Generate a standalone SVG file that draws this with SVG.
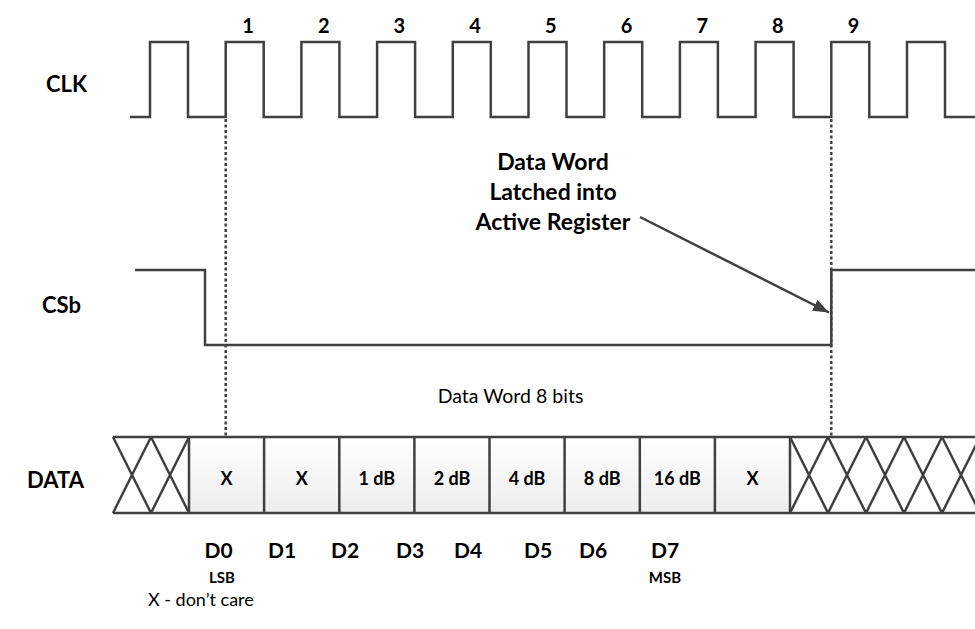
<svg xmlns="http://www.w3.org/2000/svg" width="975" height="629" viewBox="0 0 975 629">
<style>
.w{fill:none;stroke:#404040;stroke-width:2.5}
.dot{fill:none;stroke:#404040;stroke-width:2.5;stroke-dasharray:3,2.5}
.t{font-family:Lato,"Liberation Sans",sans-serif;fill:#000;text-anchor:middle}
.b{font-weight:bold}
</style>
<defs>
<linearGradient id="g" x1="0" y1="0" x2="0" y2="1">
<stop offset="0" stop-color="#ffffff"/>
<stop offset="1" stop-color="#ededed"/>
</linearGradient>
<marker id="ah" markerWidth="16" markerHeight="12" refX="16" refY="6" orient="auto" markerUnits="userSpaceOnUse" viewBox="0 0 16 12">
<path d="M0,0 L16,6 L0,12 Z" fill="#404040"/>
</marker>
</defs>
<g id="labels">
<text class="t b" x="87" y="92" font-size="22" style="text-anchor:end">CLK</text>
<text class="t b" x="81" y="313" font-size="22" style="text-anchor:end">CSb</text>
<text class="t b" x="84" y="488" font-size="22" style="text-anchor:end">DATA</text>
</g>
<g id="clk-numbers" class="t b" font-size="20">
<text x="248" y="33">1</text><text x="323.7" y="33">2</text><text x="399.4" y="33">3</text>
<text x="475.1" y="33">4</text><text x="550.8" y="33">5</text><text x="626.5" y="33">6</text>
<text x="702.2" y="33">7</text><text x="777.9" y="33">8</text><text x="853.6" y="33">9</text>
</g>
<g id="clk">
<path class="w" d="M130,117 H150 V42 H188 V117 H225.7 V42 H263.7 V117 H301.4 V42 H339.4 V117 H377.1 V42 H415.1 V117 H452.8 V42 H490.8 V117 H528.5 V42 H566.5 V117 H604.2 V42 H642.2 V117 H679.9 V42 H717.9 V117 H755.6 V42 H793.6 V117 H831.3 V42 H869.3 V117 H907 V42 H945 V117 H975"/>
</g>
<g id="csb">
<path class="w" d="M135,270 H205 V345 H831.3 V270 H975"/>
</g>
<g id="connectors">
<line class="dot" x1="225.7" y1="119" x2="225.7" y2="436"/>
<line class="dot" x1="831.3" y1="119" x2="831.3" y2="436"/>
<line x1="640" y1="217" x2="829" y2="312.5" stroke="#404040" stroke-width="2.5" marker-end="url(#ah)"/>
</g>
<g id="annotation" class="t b" font-size="23">
<text x="553" y="170">Data Word</text>
<text x="553" y="200">Latched into</text>
<text x="553" y="230">Active Register</text>
</g>
<text id="word-label" class="t" x="510.5" y="403" font-size="19.5">Data Word 8 bits</text>
<g id="data">
<rect x="189" y="437" width="601" height="76" fill="url(#g)" stroke="none"/>
<path class="w" d="M113,437 H975 M113,513 H975 M189,437 V513 M264.1,437 V513 M339.3,437 V513 M414.4,437 V513 M489.5,437 V513 M564.6,437 V513 M639.8,437 V513 M714.9,437 V513 M790,437 V513"/>
<path class="w" stroke-width="2" d="M113,437 L151,513 M113,513 L151,437 M151,437 L189,513 M151,513 L189,437 M790,513 L828,437 M790,437 L828,513 M828,513 L866,437 M828,437 L866,513 M866,513 L904,437 M866,437 L904,513 M904,513 L942,437 M904,437 L942,513 M942,513 L980,437 M942,437 L980,513"/>
<g class="t b" font-size="18">
<text x="226.5" y="485">X</text><text x="301.7" y="485">X</text><text x="376.8" y="485">1 dB</text>
<text x="452" y="485">2 dB</text><text x="527" y="485">4 dB</text><text x="602.2" y="485">8 dB</text>
<text x="677.3" y="485">16 dB</text><text x="752.5" y="485">X</text>
</g>
</g>
<g id="bits" class="t b">
<g font-size="21">
<text x="218.5" y="558">D0</text><text x="282" y="558">D1</text><text x="345" y="558">D2</text>
<text x="410" y="558">D3</text><text x="468" y="558">D4</text><text x="538" y="558">D5</text>
<text x="593" y="558">D6</text><text x="665" y="558">D7</text>
</g>
<g font-size="15">
<text x="222" y="583">LSB</text><text x="665" y="583">MSB</text>
</g>
</g>
<text id="legend" class="t" x="148" y="606" font-size="18" style="text-anchor:start">X - don’t care</text>
</svg>
